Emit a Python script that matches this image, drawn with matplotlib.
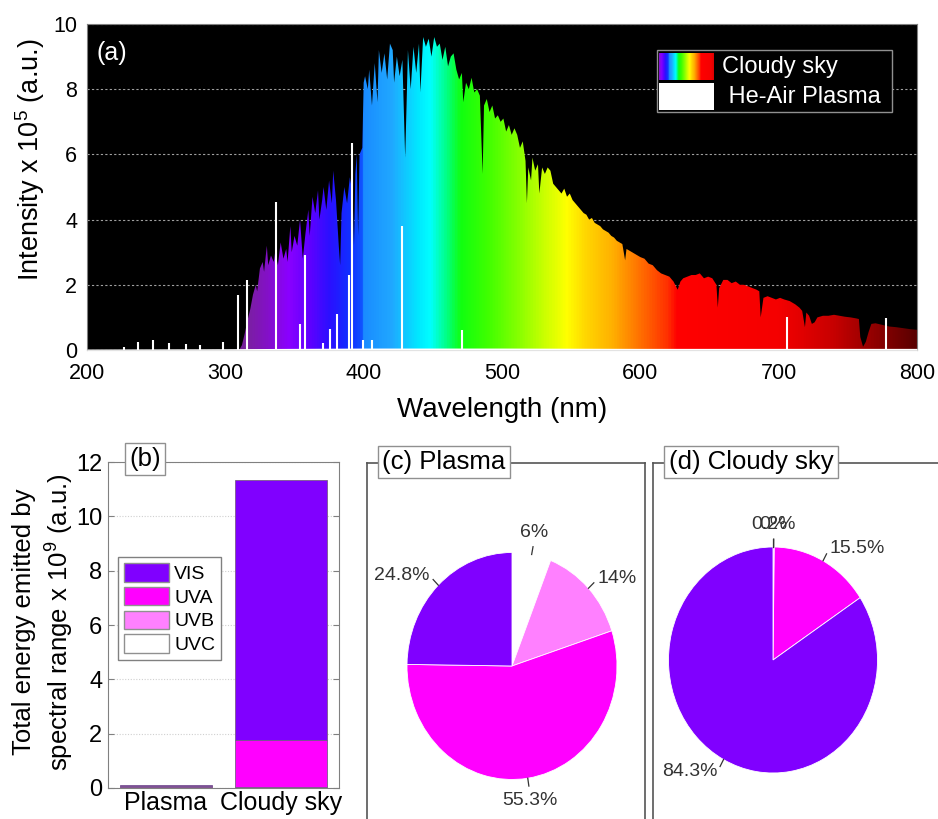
import numpy as np
import matplotlib
matplotlib.use("Agg")
import matplotlib.pyplot as plt
from matplotlib.colors import LinearSegmentedColormap, Normalize
from matplotlib.patches import Polygon, Rectangle, Patch

plt.rcParams['font.family'] = ['Liberation Sans', 'DejaVu Sans']
plt.rcParams['mathtext.fontset'] = 'custom'
plt.rcParams['mathtext.rm'] = 'Liberation Sans'
plt.rcParams['mathtext.it'] = 'Liberation Sans:italic'
plt.rcParams['mathtext.bf'] = 'Liberation Sans:bold'

# ---------------- data ----------------
# (a) Cloudy sky spectrum envelope (wavelength nm, intensity x1e5)
sky_wl = [300, 310, 312, 314, 316, 318, 320, 322, 323, 325, 327, 328, 330, 331, 333, 335, 336, 338,
          340, 342, 344, 345, 347, 348, 350, 352, 354, 356, 358, 360, 361, 363, 365, 367, 368, 370,
          371, 373, 375, 377, 378, 380, 382, 383, 384, 386, 388, 390, 392, 393, 394, 395, 396, 397,
          399, 400, 401, 403, 404, 406, 408, 410, 411, 413, 415, 417, 419, 421, 422, 424, 426, 428,
          430, 431, 432, 434, 436, 438, 440, 441, 443, 445, 447, 449, 451, 453, 455, 457, 459, 461,
          463, 465, 467, 469, 471, 472, 474, 476, 478, 480, 482, 484, 486, 487, 489, 491, 493, 495,
          497, 499, 501, 503, 505, 507, 509, 511, 513, 515, 517, 518, 519, 521, 522, 524, 526, 527,
          529, 531, 533, 535, 537, 539, 541, 543, 545, 547, 549, 551, 553, 555, 557, 559, 561, 563,
          565, 567, 569, 571, 573, 575, 577, 579, 581, 583, 585, 587, 589, 590, 592, 594, 596, 598,
          600, 603, 606, 609, 612, 615, 618, 621, 624, 627, 629, 631, 634, 637, 640, 643, 646, 649,
          652, 655, 656, 657, 660, 663, 666, 669, 672, 675, 678, 681, 684, 686, 687, 689, 692, 695,
          698, 701, 704, 708, 712, 715, 717, 719, 720, 722, 724, 726, 728, 732, 736, 740, 744, 748,
          752, 756, 758, 759, 761, 763, 765, 767, 770, 775, 780, 785, 790, 795, 800]
sky_I = [0.0, 0.0, 0.15, 0.5, 0.9, 1.25, 1.7, 2.0, 1.8, 2.5, 2.7, 2.4, 3.2, 2.6, 2.9, 2.7, 3.0, 2.6,
         3.3, 2.8, 3.1, 2.7, 3.8, 3.0, 3.5, 3.2, 4.0, 2.8, 3.6, 4.3, 3.5, 4.7, 4.2, 4.9, 4.0, 4.6,
         5.0, 4.3, 5.2, 4.5, 5.5, 4.6, 3.2, 2.6, 4.2, 5.0, 4.5, 5.3, 4.8, 3.2, 5.4, 6.0, 3.5, 6.0,
         6.2, 8.2, 8.4, 8.0, 8.6, 7.5, 8.8, 7.6, 9.2, 8.5, 9.1, 8.3, 9.4, 9.2, 8.2, 9.0, 8.4, 8.9,
         5.9, 7.5, 9.2, 8.0, 9.3, 8.5, 9.4, 7.9, 9.6, 9.3, 9.55, 9.0, 9.6, 9.3, 9.4, 8.9, 9.3, 8.7,
         9.0, 9.1, 8.6, 8.3, 8.5, 7.6, 8.2, 8.0, 8.35, 7.9, 8.0, 7.8, 5.4, 7.5, 7.7, 7.3, 7.5, 7.1,
         7.2, 7.0, 7.1, 6.7, 6.9, 6.6, 6.8, 6.6, 6.2, 6.4, 5.8, 4.5, 5.6, 5.2, 5.9, 5.5, 5.7, 4.8,
         5.6, 5.4, 5.6, 5.5, 5.1, 5.0, 4.9, 4.8, 4.95, 4.7, 4.8, 4.6, 4.5, 4.4, 4.3, 4.2, 4.15, 4.0,
         4.05, 3.9, 3.85, 3.8, 3.7, 3.65, 3.6, 3.5, 3.45, 3.35, 3.3, 3.25, 2.75, 3.1, 3.05, 3.0, 2.95, 2.9,
         2.85, 2.8, 2.65, 2.6, 2.45, 2.35, 2.3, 2.25, 2.1, 1.85, 2.1, 2.2, 2.25, 2.3, 2.3, 2.35, 2.2, 2.25,
         2.2, 2.0, 1.3, 1.9, 2.15, 2.15, 2.05, 2.1, 2.0, 2.0, 1.95, 1.9, 1.85, 1.8, 1.0, 1.6, 1.65, 1.6,
         1.55, 1.6, 1.55, 1.5, 1.4, 1.3, 1.2, 0.7, 1.15, 1.05, 0.8, 0.85, 1.0, 1.05, 1.05, 1.08, 1.05, 1.02,
         1.0, 0.97, 0.95, 0.4, 0.1, 0.25, 0.55, 0.8, 0.82, 0.77, 0.72, 0.7, 0.67, 0.64, 0.62]

# (a) He-Air plasma: baseline and emission lines
plasma_base_wl = [200, 300, 400, 500, 600, 700, 800]
plasma_base_I = [0.03, 0.04, 0.06, 0.06, 0.05, 0.05, 0.05]
plasma_line_wl = [227, 237, 248, 259, 271.5, 282, 298, 309, 315.7, 336.8, 354, 357.6,
                  370.8, 375.7, 380.5, 389.5, 391.4, 399.7, 405.7, 427.9, 471, 706, 777.6]
plasma_line_I = [0.08, 0.25, 0.3, 0.22, 0.18, 0.15, 0.25, 1.7, 2.15, 4.55, 0.8, 2.9,
                 0.2, 0.65, 1.1, 2.3, 6.35, 0.3, 0.3, 3.8, 0.6, 1.0, 0.97]

# (b) energy per spectral range (x1e9)
bar_categories = ['Plasma', 'Cloudy sky']
ranges = ['UVC', 'UVB', 'UVA', 'VIS']
energy_UVC = [0.007, 0.0]
energy_UVB = [0.017, 0.023]
energy_UVA = [0.066, 1.76]
energy_VIS = [0.030, 9.57]

# (c), (d) percentages, order UVC, UVB, UVA, VIS (clockwise from top)
pie_plasma = [6, 14, 55.3, 24.8]
pie_plasma_labels = ['6%', '14%', '55.3%', '24.8%']
pie_sky = [0.0, 0.2, 15.5, 84.3]
pie_sky_labels = ['0%', '0.2%', '15.5%', '84.3%']

range_colors = {'VIS': '#8000ff', 'UVA': '#ff00ff', 'UVB': '#ff80ff', 'UVC': '#ffffff'}

# spectral color stops
stop_wl = [300, 315, 330, 345, 360, 375, 390, 398, 400, 420, 440, 448, 460, 470, 490, 510, 530,
           547, 560, 580, 600, 620, 627, 700, 740, 800]
stop_col = ['#6a1a8a', '#7a20a0', '#8410c8', '#8a00ff', '#6000ff', '#2a10ff', '#1030ff', '#1050ff',
            '#1a8cff', '#20a8ff', '#00eaff', '#00ffff', '#00ff80', '#10ff10', '#40ff00', '#80ff00',
            '#c8ff00', '#ffff00', '#ffd800', '#ffb000', '#ff7000', '#ff3000', '#ff0000', '#f50000',
            '#c80000', '#5a0000']

# ---------------- figure ----------------
W, H = 938, 819
fig = plt.figure(figsize=(W / 100, H / 100), dpi=100)


def rect(l, t, r, b):
    return [l / W, 1 - b / H, (r - l) / W, (b - t) / H]


def fpt(x, y):
    return (x / W, 1 - y / H)


cmap = LinearSegmentedColormap.from_list(
    'spec', [((w - 300) / 500, c) for w, c in zip(stop_wl, stop_col)])
norm = Normalize(300, 800)

# ---------- (a) ----------
ax = fig.add_axes(rect(87, 24, 917, 350))
ax.set_facecolor('black')
ax.set_axisbelow(True)
ax.grid(axis='y', color='#a0a0a0', linestyle=(0, (2, 2)), linewidth=0.8)
verts = np.column_stack([np.r_[sky_wl[0], sky_wl, sky_wl[-1]], np.r_[0, sky_I, 0]])
poly = Polygon(verts, closed=True, facecolor='none', edgecolor='none')
ax.add_patch(poly)
grad = np.linspace(300, 800, 1500).reshape(1, -1)
im = ax.imshow(grad, extent=[300, 800, 0, 10], aspect='auto', cmap=cmap, norm=norm,
               origin='lower', interpolation='bilinear', zorder=2)
im.set_clip_path(poly)
ax.fill_between(plasma_base_wl, 0, plasma_base_I, color='white', zorder=3, linewidth=0)
ax.vlines(plasma_line_wl, 0, plasma_line_I, color='white', linewidth=1.5, zorder=4)
ax.set_xlim(200, 800)
ax.set_ylim(0, 10)
ax.set_xticks([200, 300, 400, 500, 600, 700, 800])
ax.set_yticks([0, 2, 4, 6, 8, 10])
ax.tick_params(length=0, labelsize=15.5)
ax.tick_params(axis='x', pad=9)
ax.tick_params(axis='y', pad=7)
for s in ax.spines.values():
    s.set_color('#808080')
ax.spines['bottom'].set_color('#c8c8c8')
fig.text(*fpt(96, 53), '(a)', color='white', fontsize=18, ha='left', va='center')
fig.text(*fpt(30, 160), 'Intensity x 10$^{5}$ (a.u.)', rotation=90, ha='center',
         va='center', fontsize=19.5)
fig.text(*fpt(502, 410), 'Wavelength (nm)', ha='center', va='center', fontsize=20)

# legend for (a), drawn manually
fig.add_artist(Rectangle(fpt(657, 112), 235 / W, 62 / H, transform=fig.transFigure,
                         facecolor='black', edgecolor='#909090', linewidth=1, zorder=2))
lax = fig.add_axes(rect(659, 53, 714, 80))
lax.set_zorder(3)
lax.imshow(np.linspace(330, 720, 300).reshape(1, -1), aspect='auto', cmap=cmap, norm=norm,
           interpolation='bilinear')
lax.axis('off')
fig.add_artist(Rectangle(fpt(659, 110), 55 / W, 27 / H, transform=fig.transFigure,
                         facecolor='white', edgecolor='none', zorder=3))
fig.text(*fpt(722, 67), 'Cloudy sky', color='white', fontsize=17, ha='left', va='center',
         zorder=4)
fig.text(*fpt(722, 97), ' He-Air Plasma', color='white', fontsize=17, ha='left',
         va='center', zorder=4)

# ---------- (b) ----------
bx = fig.add_axes(rect(108, 462, 339, 788))
xpos = np.arange(len(bar_categories))
bottom = np.zeros(len(bar_categories))
series = {'UVC': energy_UVC, 'UVB': energy_UVB, 'UVA': energy_UVA, 'VIS': energy_VIS}
for name in ranges:
    vals = np.array(series[name])
    bx.bar(xpos, vals, 0.8, bottom=bottom, color=range_colors[name],
           edgecolor='#7a5a8a', linewidth=0.6, zorder=2)
    bottom += vals
bx.set_xlim(-0.5, 1.5)
bx.set_ylim(0, 12)
bx.set_yticks([0, 2, 4, 6, 8, 10, 12])
bx.set_xticks(xpos)
bx.set_xticklabels(bar_categories, fontsize=18)
bx.tick_params(axis='y', direction='in', length=4, labelsize=17, pad=4, right=True,
               color='#808080')
bx.tick_params(axis='x', length=0, pad=2)
bx.grid(axis='y', color='#d0d0d0', linestyle=(0, (1, 1.5)), linewidth=0.8)
bx.set_axisbelow(True)
for s in bx.spines.values():
    s.set_color('#808080')
leg_handles = [Patch(facecolor=range_colors[n], edgecolor='#909090', linewidth=1)
               for n in ['VIS', 'UVA', 'UVB', 'UVC']]
bx.legend(leg_handles, ['VIS', 'UVA', 'UVB', 'UVC'], loc='upper left',
          bbox_to_anchor=fpt(118, 557), bbox_transform=fig.transFigure, fontsize=14,
          handlelength=2.3, handleheight=1.1, labelspacing=0.2, borderpad=0.3,
          handletextpad=0.3, borderaxespad=0, fancybox=False, framealpha=1,
          edgecolor='#808080')
fig.text(*fpt(145, 459), '(b)', fontsize=18.5, ha='center', va='center',
         bbox=dict(boxstyle='square,pad=0.17', facecolor='white', edgecolor='#909090'))
fig.text(*fpt(44, 622), 'Total energy emitted by\nspectral range x 10$^{9}$ (a.u.)',
         rotation=90, ha='center', va='center', fontsize=18.5, linespacing=1.3,
         multialignment='center')

# ---------- (c), (d) frames ----------
for (l, r), title, cx in [((367, 645), '(c) Plasma', 444), ((653, 960), '(d) Cloudy sky', 751)]:
    fa = fig.add_axes(rect(l, 463, r, 840))
    fa.set_xticks([])
    fa.set_yticks([])
    for s in fa.spines.values():
        s.set_color('#555555')
        s.set_linewidth(1.2)
    fig.text(*fpt(cx, 462), title, fontsize=18.5, ha='center', va='center', zorder=5,
             bbox=dict(boxstyle='square,pad=0.17', facecolor='white', edgecolor='#909090'))


def draw_pie(center, rx, ry, values, labels):
    cx, cy = center
    pa = fig.add_axes(rect(cx - rx, cy - ry, cx + rx, cy + ry))
    pa.set_zorder(2)
    cols = [range_colors[n] for n in ranges]
    pa.pie(values, colors=cols, startangle=90, counterclock=False, radius=1,
           wedgeprops=dict(edgecolor='white', linewidth=0.6))
    pa.set_aspect('auto')
    pa.set_xlim(-1, 1)
    pa.set_ylim(-1, 1)
    pa.axis('off')
    total = float(np.sum(values))
    cum = 0.0
    for v, lab in zip(values, labels):
        mid = 90 - 360 * (cum + v / 2) / total
        cum += v
        c, s = np.cos(np.radians(mid)), np.sin(np.radians(mid))
        pa.plot([1.0 * c, 1.07 * c], [1.0 * s, 1.07 * s], color='#333333', linewidth=0.9,
                clip_on=False)
        d = 1.12
        if abs(c) < 0.35:
            ha, va = 'center', ('bottom' if s > 0 else 'top')
        else:
            ha, va = ('left' if c > 0 else 'right'), 'center'
        pa.text(d * c, d * s, lab, ha=ha, va=va, fontsize=14, color='#333333', clip_on=False)


draw_pie((512, 666), 105, 113.5, pie_plasma, pie_plasma_labels)
draw_pie((773, 660), 104.5, 113, pie_sky, pie_sky_labels)

fig.savefig('out.png', dpi=100)
